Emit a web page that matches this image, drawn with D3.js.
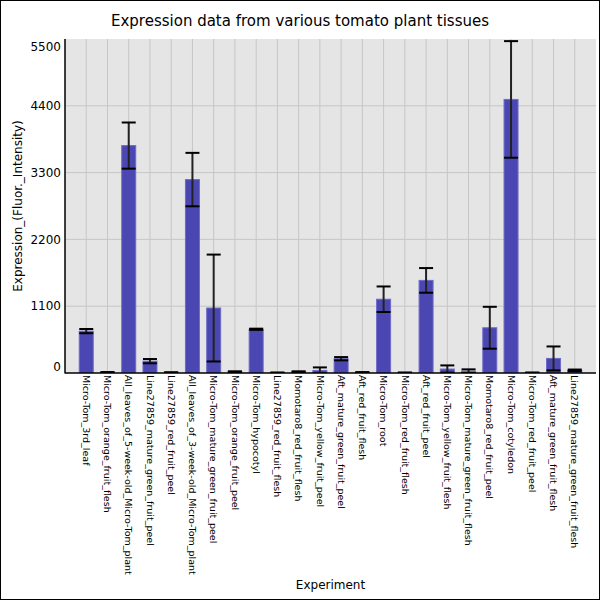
<!DOCTYPE html>
<html>
<head>
<meta charset="utf-8">
<script src="https://cdn.jsdelivr.net/npm/d3@7"></script>
<style>
  body { margin: 0; background: #fff; }
  svg { display: block; font-family: "DejaVu Sans", sans-serif; }
</style>
</head>
<body>
<svg id="chart"></svg>
<script>
// Data
const experiments = [
  "Micro-Tom_3rd_leaf",
  "Micro-Tom_orange_fruit_flesh",
  "All_leaves_of_5-week-old_Micro-Tom_plant",
  "Line27859_mature_green_fruit_peel",
  "Line27859_red_fruit_peel",
  "All_leaves_of_3-week-old_Micro-Tom_plant",
  "Micro-Tom_mature_green_fruit_peel",
  "Micro-Tom_orange_fruit_peel",
  "Micro-Tom_hypocotyl",
  "Line27859_red_fruit_flesh",
  "Momotaro8_red_fruit_flesh",
  "Micro-Tom_yellow_fruit_peel",
  "Aft_mature_green_fruit_peel",
  "Aft_red_fruit_flesh",
  "Micro-Tom_root",
  "Micro-Tom_red_fruit_flesh",
  "Aft_red_fruit_peel",
  "Micro-Tom_yellow_fruit_flesh",
  "Micro-Tom_mature_green_fruit_flesh",
  "Momotaro8_red_fruit_peel",
  "Micro-Tom_cotyledon",
  "Micro-Tom_red_fruit_peel",
  "Aft_mature_green_fruit_flesh",
  "Line27859_mature_green_fruit_flesh"
];
const expression = [690, 10, 3745, 195, 8, 3185, 1070, 20, 720, 5, 18, 42,
                    235, 10, 1215, 5, 1525, 65, 30, 745, 4505, 5, 240, 45];
const stdDev = [35, 6, 380, 35, 5, 440, 880, 8, 10, 3, 10, 50,
                27, 5, 210, 3, 203, 60, 30, 345, 960, 3, 197, 12];
const yTicks = [0, 1100, 2200, 3300, 4400, 5500];

const data = experiments.map((name, i) => ({ name: name, value: expression[i], err: stdDev[i] }));

function drawChart(data) {
    var svgWidth = 600;
    var svgHeight = 600;
    var plot = {l: 65, t: 39, r: 596, b: 373};

    const svg = d3.select('#chart')
        .attr('width', svgWidth)
        .attr('height', svgHeight);

    // frame round the picture
    svg.append('rect')
        .attr('x', 0.5).attr('y', 0.5)
        .attr('width', svgWidth - 1).attr('height', svgHeight - 1)
        .attr('fill', '#fff')
        .attr('stroke', '#000');

    var xScale = d3.scaleBand()
        .domain(data.map(d => d.name))
        .range([plot.l, plot.r])
        .paddingInner(0)
        .paddingOuter(0.5);

    var yScale = d3.scaleLinear()
        .domain([0, 5500])
        .range([plot.b, plot.t]);

    const cx = d => xScale(d.name) + xScale.bandwidth() / 2;

    svg.append('clipPath').attr('id', 'plot-clip')
        .append('rect')
        .attr('x', plot.l).attr('y', plot.t)
        .attr('width', plot.r - plot.l).attr('height', plot.b - plot.t);

    // background
    svg.append('rect')
        .attr('x', plot.l).attr('y', plot.t)
        .attr('width', plot.r - plot.l).attr('height', plot.b - plot.t)
        .attr('fill', '#e5e5e5');

    // gridlines
    var grid = svg.append('g').attr('stroke', '#c6c6c6').attr('stroke-width', 1);
    grid.selectAll('.hgrid')
        .data(yTicks.filter(v => v > 0 && v < 5500))
        .enter().append('line')
        .attr('x1', plot.l).attr('x2', plot.r)
        .attr('y1', d => yScale(d)).attr('y2', d => yScale(d));
    grid.selectAll('.vgrid')
        .data(data)
        .enter().append('line')
        .attr('x1', cx).attr('x2', cx)
        .attr('y1', plot.t).attr('y2', plot.b);

    var chartG = svg.append('g').attr('clip-path', 'url(#plot-clip)');

    // bars
    var barW = 14;
    chartG.selectAll('.bar')
        .data(data)
        .enter().append('rect')
        .attr('class', 'bar')
        .attr('x', d => cx(d) - barW / 2)
        .attr('y', d => yScale(d.value))
        .attr('width', barW)
        .attr('height', d => yScale(0) - yScale(d.value))
        .attr('fill', '#4b47b2')
        .attr('stroke', '#6f6bc6')
        .attr('stroke-width', 1);

    // error bars
    var capW = 14;
    chartG.selectAll('.err')
        .data(data)
        .enter().append('line')
        .attr('x1', cx).attr('x2', cx)
        .attr('y1', d => yScale(d.value + d.err))
        .attr('y2', d => yScale(d.value - d.err))
        .attr('stroke', '#222')
        .attr('stroke-width', 2);
    ['hi', 'lo'].forEach(side => {
        chartG.selectAll('.cap-' + side)
            .data(data)
            .enter().append('line')
            .attr('x1', d => cx(d) - capW / 2).attr('x2', d => cx(d) + capW / 2)
            .attr('y1', d => yScale(side == 'hi' ? d.value + d.err : d.value - d.err))
            .attr('y2', d => yScale(side == 'hi' ? d.value + d.err : d.value - d.err))
            .attr('stroke', '#000')
            .attr('stroke-width', 2);
    });

    // axis lines
    svg.append('line')
        .attr('x1', plot.l).attr('x2', plot.l)
        .attr('y1', plot.t).attr('y2', plot.b + 0.5)
        .attr('stroke', '#000').attr('stroke-width', 1.5);
    svg.append('line')
        .attr('x1', plot.l).attr('x2', plot.r)
        .attr('y1', plot.b).attr('y2', plot.b)
        .attr('stroke', '#000').attr('stroke-width', 1.5);

    // y tick labels, kept inside the plot height
    svg.selectAll('.ytick')
        .data(yTicks)
        .enter().append('text')
        .attr('class', 'ytick')
        .attr('x', 61)
        .attr('y', d => Math.min(Math.max(yScale(d), plot.t + 8), plot.b - 6))
        .attr('dy', '0.35em')
        .attr('text-anchor', 'end')
        .attr('font-size', '12px')
        .text(d => d);

    // x tick labels, read top to bottom
    svg.selectAll('.xtick')
        .data(data)
        .enter().append('text')
        .attr('class', 'xtick')
        .attr('transform', d => 'translate(' + [cx(d), plot.b + 2] + ') rotate(90)')
        .attr('dy', '0.35em')
        .attr('font-size', '9.5px')
        .text(d => d.name);

    // titles
    svg.append('text')
        .attr('x', 300).attr('y', 21)
        .attr('dy', '0.35em')
        .attr('text-anchor', 'middle')
        .attr('font-size', '15px')
        .text('Expression data from various tomato plant tissues');

    svg.append('text')
        .attr('transform', 'translate(18,' + (plot.t + plot.b) / 2 + ') rotate(-90)')
        .attr('dy', '0.35em')
        .attr('text-anchor', 'middle')
        .attr('font-size', '12px')
        .text('Expression_(Fluor._Intensity)');

    svg.append('text')
        .attr('x', (plot.l + plot.r) / 2).attr('y', 585)
        .attr('dy', '0.35em')
        .attr('text-anchor', 'middle')
        .attr('font-size', '12px')
        .text('Experiment');
}

drawChart(data);
</script>
</body>
</html>
